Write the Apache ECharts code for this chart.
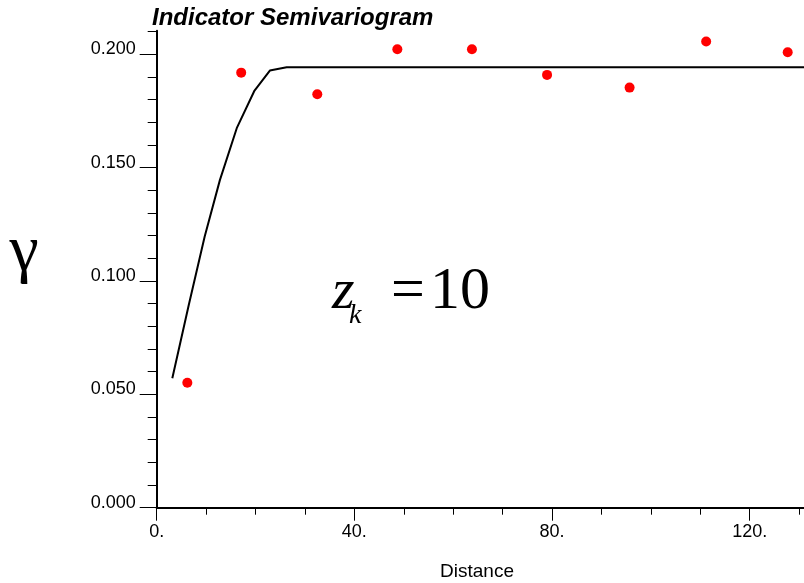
<!DOCTYPE html>
<html>
<head>
<meta charset="utf-8">
<script src="https://cdn.jsdelivr.net/npm/echarts@6/dist/echarts.min.js"></script>
<style>html,body{margin:0;padding:0;background:#fff;}#c{width:804px;height:583px;}</style>
</head>
<body>
<div id="c"></div>
<script>
// Experimental semivariogram (lag distance, gamma)
var lagDistance = [6.2, 17.1, 32.5, 48.7, 63.8, 79.0, 95.7, 111.2, 127.7];
var lagGamma = [0.0551, 0.1919, 0.1824, 0.2022, 0.2022, 0.1909, 0.1853, 0.2056, 0.2009];
// Fitted model curve
var modelDistance = [3.16, 6.5, 9.7, 12.8, 16.2, 19.8, 22.9, 26.3, 131];
var modelGamma = [0.0571, 0.0895, 0.1195, 0.1446, 0.1674, 0.1840, 0.1928, 0.1943, 0.1943];
// Ticks
var xMajorTicks = [0, 40, 80, 120];
var xMinorTicks = [10, 20, 30, 50, 60, 70, 90, 100, 110, 130];
var yMajorTicks = [0, 0.05, 0.1, 0.15, 0.2];
var yMinorTicks = [0.01, 0.02, 0.03, 0.04, 0.06, 0.07, 0.08, 0.09, 0.11, 0.12, 0.13, 0.14, 0.16, 0.17, 0.18, 0.19, 0.21];

var X_MAX = 131, Y_MAX = 0.2104;
var FONT = '"Liberation Sans", Arial, sans-serif';
var SERIF = '"Liberation Serif", "Times New Roman", serif';

var chart = echarts.init(document.getElementById('c'), null, {renderer: 'canvas'});
var scatterData = lagDistance.map(function (d, i) { return [d, lagGamma[i]]; });
var modelData = modelDistance.map(function (d, i) { return [d, modelGamma[i]]; });

chart.setOption({
  animation: false,
  backgroundColor: '#ffffff',
  grid: {left: 156.7, right: 0, top: 30.7, bottom: 75.3, containLabel: false},
  xAxis: [{
    type: 'value', min: 0, max: X_MAX,
    axisLine: {show: true, onZero: false, lineStyle: {color: '#000', width: 2}},
    axisTick: {show: true, customValues: xMajorTicks, length: 13, lineStyle: {color: '#000', width: 1}},
    axisLabel: {show: true, customValues: xMajorTicks, margin: 15, color: '#000', fontFamily: FONT, fontSize: 18,
      formatter: function (v) { return v + '.'; }},
    splitLine: {show: false}
  }, {
    type: 'value', min: 0, max: X_MAX, position: 'bottom',
    axisLine: {show: false},
    axisTick: {show: true, customValues: xMinorTicks, length: 7, lineStyle: {color: '#000', width: 1}},
    axisLabel: {show: false},
    splitLine: {show: false}
  }],
  yAxis: [{
    type: 'value', min: 0, max: Y_MAX,
    axisLine: {show: true, onZero: false, lineStyle: {color: '#000', width: 2}},
    axisTick: {show: true, customValues: yMajorTicks, length: 17, lineStyle: {color: '#000', width: 1}},
    axisLabel: {show: true, customValues: yMajorTicks, margin: 21, color: '#000', fontFamily: FONT, fontSize: 18,
      verticalAlign: 'bottom', lineHeight: 10,
      formatter: function (v) { return v.toFixed(3); }},
    splitLine: {show: false}
  }, {
    type: 'value', min: 0, max: Y_MAX, position: 'left',
    axisLine: {show: false},
    axisTick: {show: true, customValues: yMinorTicks, length: 9, lineStyle: {color: '#000', width: 1}},
    axisLabel: {show: false},
    splitLine: {show: false}
  }],
  series: [{
    type: 'line', data: modelData, xAxisIndex: 0, yAxisIndex: 0,
    showSymbol: false, symbol: 'none', smooth: false,
    lineStyle: {color: '#000', width: 2}, clip: true, z: 2
  }, {
    type: 'scatter', data: scatterData, xAxisIndex: 0, yAxisIndex: 0,
    symbol: 'circle', symbolSize: 10,
    itemStyle: {color: '#ff0000', opacity: 1}, z: 3
  }],
  graphic: [
    {type: 'text', x: 152, y: 18.7, style: {text: 'Indicator Semivariogram', fill: '#000',
      font: 'italic bold 24px ' + FONT, textAlign: 'left', verticalAlign: 'middle'}},
    {type: 'text', x: 477, y: 571.7, style: {text: 'Distance', fill: '#000',
      font: '19px ' + FONT, textAlign: 'center', verticalAlign: 'middle'}},
    {type: 'text', x: 24, y: 253, style: {text: 'γ', fill: '#000',
      font: '66px ' + SERIF, textAlign: 'center', verticalAlign: 'middle'}},
    {type: 'text', x: 332, y: 292.5, style: {text: 'z', fill: '#000',
      font: 'italic 58px ' + SERIF, textAlign: 'left', verticalAlign: 'middle'}},
    {type: 'text', x: 349, y: 315.5, style: {text: 'k', fill: '#000',
      font: 'italic 28px ' + SERIF, textAlign: 'left', verticalAlign: 'middle'}},
    {type: 'text', x: 391, y: 291.75, style: {text: '=', fill: '#000',
      font: '60px ' + SERIF, textAlign: 'left', verticalAlign: 'middle'}},
    {type: 'text', x: 430, y: 291.75, style: {text: '10', fill: '#000',
      font: '60px ' + SERIF, textAlign: 'left', verticalAlign: 'middle'}}
  ]
});
</script>
</body>
</html>
